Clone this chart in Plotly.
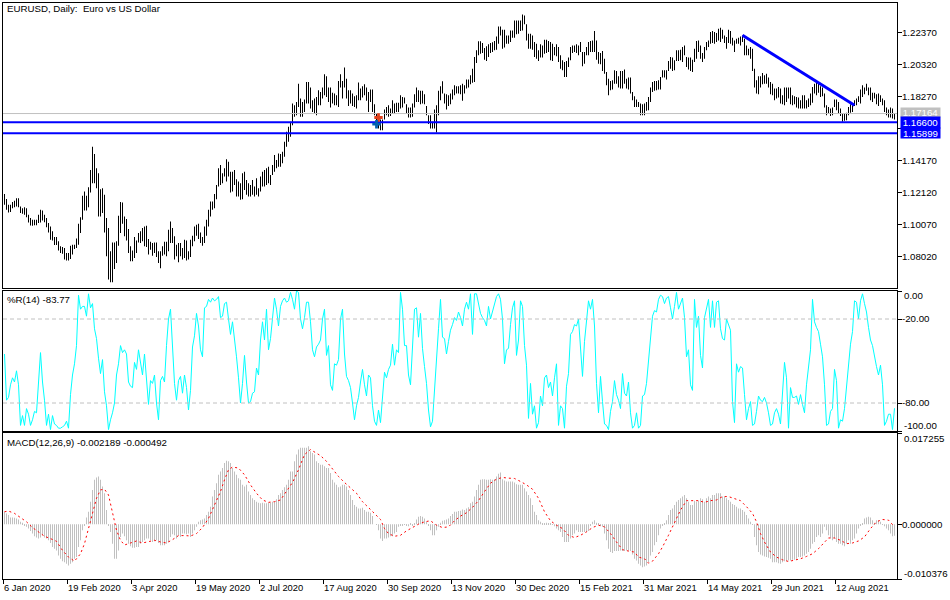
import plotly.graph_objects as go

# EURUSD daily, values
bar_high = [
 1.1201,1.1169,1.1131,1.1131,1.1150,1.1157,1.1174,1.1174,1.1120,1.1110,1.1116,1.1110,1.1067,1.1046,1.1035,1.1035,1.1035,1.1067,1.1099,1.1095,
 1.1067,1.1046,1.1014,1.0993,1.0961,1.0925,1.0925,1.0897,1.0865,1.0861,1.0854,1.0822,1.0822,1.0869,1.0875,1.0875,1.0916,1.1010,1.1052,1.1189,
 1.1216,1.1189,1.1244,1.1355,1.1504,1.1457,1.1365,1.1333,1.1231,1.1238,1.1195,1.1046,1.0982,1.0833,1.0890,1.0890,1.0897,1.1061,1.1150,1.1146,
 1.1057,1.1040,1.0976,1.0865,1.0839,1.0925,1.0903,1.0950,1.0961,1.0982,1.0993,1.0997,1.0912,1.0895,1.0886,1.0890,1.0890,1.0833,1.0833,1.0865,
 1.0895,1.0895,1.0971,1.1025,1.0982,1.0929,1.0875,1.0886,1.0886,1.0854,1.0907,1.0903,1.0833,1.0907,1.0933,1.0993,1.1003,1.1010,1.0954,1.0925,
 1.0993,1.1035,1.1099,1.1152,1.1152,1.1201,1.1259,1.1365,1.1387,1.1333,1.1365,1.1423,1.1408,1.1344,1.1344,1.1355,1.1295,1.1280,1.1270,1.1333,
 1.1344,1.1291,1.1270,1.1259,1.1291,1.1248,1.1301,1.1238,1.1312,1.1344,1.1355,1.1365,1.1376,1.1323,1.1387,1.1451,1.1419,1.1461,1.1457,1.1472,
 1.1536,1.1600,1.1632,1.1664,1.1781,1.1770,1.1791,1.1908,1.1813,1.1791,1.1806,1.1919,1.1919,1.1883,1.1802,1.1813,1.1823,1.1866,
 1.1855,1.1883,1.1968,1.1955,1.1883,1.1883,1.1849,1.1845,1.1834,1.1925,1.1968,1.1925,1.2011,1.1940,1.1866,1.1866,1.1845,1.1828,1.1834,1.1915,
 1.1877,1.1891,1.1904,1.1883,1.1855,1.1870,1.1870,1.1776,1.1717,1.1685,1.1678,1.1678,1.1742,1.1759,1.1770,1.1749,1.1802,1.1781,1.1785,1.1785,
 1.1834,1.1823,1.1819,1.1776,1.1755,1.1755,1.1781,1.1840,1.1883,1.1866,1.1862,1.1862,1.1840,1.1764,1.1706,1.1706,1.1664,1.1742,1.1770,1.1862,
 1.1891,1.1923,1.1845,1.1840,1.1834,1.1845,1.1870,1.1898,1.1891,1.1891,1.1898,1.1908,1.1898,1.1934,1.1934,1.1962,1.2004,1.2079,1.2122,1.2179,
 1.2179,1.2168,1.2136,1.2147,1.2160,1.2168,1.2173,1.2181,1.2211,1.2275,1.2275,1.2254,1.2254,1.2217,1.2217,1.2249,1.2249,1.2313,1.2313,1.2313,
 1.2313,1.2352,1.2345,1.2288,1.2228,1.2228,1.2217,1.2175,1.2164,1.2122,1.2160,1.2153,1.2190,1.2190,1.2181,1.2175,1.2164,1.2143,1.2160,1.2143,
 1.2090,1.2058,1.2047,1.2053,1.2075,1.2143,1.2153,1.2153,1.2160,1.2153,1.2175,1.2111,1.2111,1.2143,1.2175,1.2181,1.2185,1.2245,1.2185,1.2111,
 1.2104,1.2117,1.2068,1.1983,1.1940,1.1925,1.1930,1.1994,1.1989,1.1955,1.1989,1.1989,1.1998,1.1940,1.1947,1.1947,1.1855,1.1828,1.1806,1.1791,
 1.1781,1.1776,1.1781,1.1791,1.1823,1.1883,1.1919,1.1925,1.1925,1.1930,1.1951,1.1994,1.1994,1.1994,1.2053,1.2079,1.2075,1.2058,1.2122,1.2122,
 1.2126,1.2143,1.2153,1.2079,1.2075,1.2075,1.2062,1.2132,1.2181,1.2185,1.2153,1.2104,1.2143,1.2175,1.2185,1.2239,1.2245,1.2239,1.2232,1.2260,
 1.2266,1.2254,1.2217,1.2207,1.2254,1.2245,1.2202,1.2185,1.2196,1.2202,1.2211,1.2217,1.2196,1.2153,1.2132,1.2143,1.2132,1.2004,1.1930,1.1955,
 1.1955,1.1977,1.1962,1.1972,1.1947,1.1919,1.1908,1.1877,1.1877,1.1887,1.1877,1.1834,1.1883,1.1883,1.1883,1.1883,1.1834,1.1828,1.1823,1.1819,
 1.1802,1.1834,1.1834,1.1802,1.1813,1.1845,1.1887,1.1908,1.1913,1.1913,1.1891,1.1883,1.1845,1.1770,1.1759,1.1749,1.1755,1.1806,1.1806,1.1791,
 1.1749,1.1717,1.1717,1.1721,1.1759,1.1776,1.1770,1.1802,1.1813,1.1828,1.1870,1.1898,1.1883,1.1908,1.1883,1.1883,1.1849,1.1849,1.1840,1.1845,
 1.1834,1.1813,1.1802,1.1755,1.1742,1.1755,1.1749,1.1717,
]
bar_low = [
 1.1131,1.1099,1.1082,1.1086,1.1110,1.1116,1.1120,1.1116,1.1078,1.1074,1.1067,1.1052,1.1018,1.0999,1.0997,1.1001,1.1001,1.1014,1.1018,1.1031,
 1.1020,1.0988,1.0954,1.0907,1.0903,1.0873,1.0873,1.0839,1.0822,1.0818,1.0780,1.0775,1.0775,1.0784,1.0812,1.0848,1.0854,1.0875,1.0950,1.1035,
 1.1095,1.1095,1.1116,1.1210,1.1270,1.1270,1.1238,1.1057,1.1057,1.1078,1.0954,1.0801,1.0652,1.0635,1.0635,1.0720,1.0758,1.0869,1.0950,1.1010,
 1.0929,1.0903,1.0822,1.0769,1.0769,1.0790,1.0822,1.0890,1.0886,1.0897,1.0865,1.0861,1.0812,1.0844,1.0805,1.0822,1.0797,1.0758,1.0724,1.0805,
 1.0812,1.0801,1.0833,1.0886,1.0886,1.0780,1.0801,1.0763,1.0801,1.0780,1.0790,1.0775,1.0780,1.0797,1.0865,1.0897,1.0933,1.0912,1.0886,1.0869,
 1.0886,1.0933,1.0993,1.1057,1.1099,1.1110,1.1167,1.1248,1.1259,1.1270,1.1312,1.1280,1.1312,1.1210,1.1216,1.1259,1.1184,1.1184,1.1163,1.1167,
 1.1227,1.1195,1.1184,1.1184,1.1195,1.1184,1.1195,1.1184,1.1216,1.1248,1.1248,1.1259,1.1270,1.1259,1.1323,1.1344,1.1365,1.1376,1.1376,1.1397,
 1.1440,1.1504,1.1536,1.1568,1.1642,1.1696,1.1706,1.1759,1.1696,1.1696,1.1727,1.1781,1.1781,1.1749,1.1727,1.1717,1.1706,1.1770,
 1.1770,1.1813,1.1834,1.1823,1.1791,1.1755,1.1781,1.1770,1.1770,1.1759,1.1883,1.1813,1.1883,1.1813,1.1764,1.1781,1.1764,1.1759,1.1749,1.1802,
 1.1802,1.1819,1.1834,1.1798,1.1727,1.1791,1.1727,1.1706,1.1674,1.1621,1.1610,1.1610,1.1678,1.1706,1.1696,1.1700,1.1717,1.1717,1.1727,1.1727,
 1.1749,1.1755,1.1781,1.1713,1.1691,1.1691,1.1696,1.1755,1.1791,1.1791,1.1776,1.1781,1.1776,1.1706,1.1649,1.1621,1.1621,1.1621,1.1595,1.1706,
 1.1802,1.1845,1.1781,1.1742,1.1764,1.1776,1.1806,1.1834,1.1845,1.1845,1.1840,1.1798,1.1845,1.1877,1.1883,1.1904,1.1913,1.1919,1.2041,1.2090,
 1.2100,1.2104,1.2062,1.2053,1.2079,1.2104,1.2111,1.2122,1.2126,1.2164,1.2217,1.2132,1.2139,1.2164,1.2164,1.2175,1.2202,1.2202,1.2224,1.2228,
 1.2245,1.2249,1.2288,1.2185,1.2132,1.2132,1.2126,1.2079,1.2068,1.2053,1.2075,1.2075,1.2100,1.2104,1.2111,1.2058,1.2053,1.2090,1.2083,1.2047,
 1.2004,1.1994,1.1951,1.1951,1.2015,1.2058,1.2104,1.2111,1.2104,1.2090,1.2111,1.2019,1.2036,1.2090,1.2090,1.2111,1.2111,1.2111,1.2062,1.2036,
 1.2032,1.1989,1.1972,1.1898,1.1834,1.1866,1.1870,1.1908,1.1908,1.1883,1.1877,1.1877,1.1908,1.1877,1.1870,1.1845,1.1802,1.1759,1.1759,1.1759,
 1.1706,1.1706,1.1706,1.1734,1.1738,1.1791,1.1855,1.1862,1.1866,1.1870,1.1870,1.1947,1.1947,1.1934,1.1989,1.2004,1.1989,1.1994,1.2053,1.2053,
 1.2058,1.2047,1.2090,1.2015,1.1998,1.1989,1.1983,1.2047,1.2068,1.2111,1.2068,1.2047,1.2068,1.2122,1.2143,1.2164,1.2168,1.2164,1.2175,1.2185,
 1.2175,1.2196,1.2168,1.2132,1.2168,1.2164,1.2153,1.2111,1.2164,1.2164,1.2153,1.2175,1.2090,1.2090,1.2090,1.2068,1.1989,1.1883,1.1845,1.1840,
 1.1883,1.1904,1.1908,1.1908,1.1883,1.1840,1.1834,1.1802,1.1813,1.1819,1.1781,1.1776,1.1770,1.1791,1.1813,1.1776,1.1770,1.1776,1.1755,1.1749,
 1.1749,1.1749,1.1749,1.1749,1.1759,1.1770,1.1785,1.1845,1.1834,1.1849,1.1823,1.1828,1.1755,1.1706,1.1717,1.1700,1.1706,1.1759,1.1738,1.1713,
 1.1700,1.1664,1.1670,1.1674,1.1706,1.1721,1.1727,1.1764,1.1770,1.1791,1.1781,1.1823,1.1840,1.1862,1.1834,1.1802,1.1791,1.1813,1.1776,1.1764,
 1.1791,1.1770,1.1727,1.1706,1.1691,1.1691,1.1685,1.1678,
]
wpr = [
 -45,-78,-76,-67,-62,-65,-57,-67,-96,-89,-96,-84,-88,-96,-92,-86,-87,-62,-44,-65,-78,-96,-88,-99,-89,-95,-96,-98,-98,-97,-96,-93,-98,-74,-60,-52,-39,-3,-13,-11,
 -11,-18,-2,-12,-9,-27,-34,-48,-59,-49,-72,-82,-99,-92,-87,-80,-60,-52,-39,-44,-42,-45,-65,-68,-69,-51,-56,-42,-53,-60,-45,-67,-81,-64,-66,-60,-80,-92,-64,-61,
 -65,-39,-20,-13,-41,-66,-78,-64,-61,-73,-60,-69,-85,-71,-40,-32,-16,-25,-42,-47,-12,-11,-6,-8,-5,-7,-6,-4,-19,-18,-9,-8,-20,-31,-22,-33,-47,-62,-80,-66,
 -46,-65,-80,-79,-73,-72,-55,-60,-35,-22,-35,-13,-42,-34,-20,-5,-13,-25,-11,-7,-5,-8,-7,-1,-6,-13,0,-1,-20,-27,-19,-8,-8,-22,-42,-47,-40,-38,
 -35,-20,-13,-46,-39,-67,-71,-52,-53,-49,-20,-13,-45,-61,-64,-69,-80,-92,-82,-76,-65,-56,-67,-75,-60,-62,-82,-93,-96,-85,-94,-78,-58,-62,-56,-53,-38,-53,-42,-44,
 -1,-13,-39,-39,-60,-67,-41,-13,-12,-33,-16,-41,-54,-66,-85,-97,-93,-68,-47,-27,-6,-33,-34,-45,-36,-28,-24,-19,-21,-15,-19,-25,-13,-8,-13,-2,-31,-2,-2,-8,
 -16,-19,-21,-25,-11,-20,-14,-9,-4,-2,-6,-20,-52,-42,-41,-24,-12,-7,-46,-35,-7,-11,-39,-53,-91,-66,-88,-82,-98,-94,-75,-82,-62,-60,-69,-65,-75,-62,-52,-96,
 -82,-84,-98,-68,-59,-31,-29,-24,-25,-20,-38,-61,-36,-20,-7,-13,-6,-25,-66,-87,-61,-79,-95,-96,-99,-86,-79,-64,-74,-78,-84,-59,-73,-75,-65,-87,-98,-96,-87,-98,
 -96,-75,-74,-66,-49,-34,-18,-14,-15,-6,-3,-4,-9,-5,-4,-12,-20,-11,-1,-13,-9,-5,-19,-47,-42,-67,-71,-6,-26,-18,-46,-55,-19,-13,-6,-26,-7,-26,-8,-7,
 -27,-34,-35,-20,-24,-28,-79,-94,-52,-58,-54,-55,-74,-92,-84,-79,-96,-95,-86,-75,-78,-79,-76,-80,-87,-96,-95,-87,-84,-88,-95,-74,-51,-62,-98,-69,-76,-76,-75,-81,
 -74,-81,-87,-67,-53,-42,-6,-22,-26,-29,-38,-47,-67,-96,-95,-86,-84,-56,-64,-98,-92,-93,-84,-67,-55,-38,-29,-7,-8,-20,-7,-2,-9,-15,-26,-35,-39,-48,-54,-60,
 -53,-67,-96,-93,-88,-88,-99,-83.77,
]
macd_hist = [
 .00235,.00204,.00172,.00127,.00127,.00121,.00108,.00089,.00045,.00025,-.00019,-.00051,-.00083,-.00127,-.00178,-.00229,-.00254,-.00273,-.00254,-.00210,
 -.00254,-.00273,-.00305,-.00356,-.00432,-.00464,-.00496,-.00591,-.00655,-.00700,-.00719,-.00750,-.00782,-.00750,-.00719,-.00655,-.00623,-.00432,-.00305,-.00114,
 -.00019,.00127,.00235,.00426,.00649,.00840,.00884,.00903,.00840,.00712,.00585,.00267,-.00019,-.00146,-.00369,-.00655,-.00655,-.00496,-.00242,-.00178,
 -.00229,-.00305,-.00369,-.00420,-.00445,-.00445,-.00432,-.00432,-.00369,-.00337,-.00305,-.00273,-.00273,-.00305,-.00337,-.00324,-.00305,-.00356,-.00401,-.00401,
 -.00401,-.00369,-.00337,-.00242,-.00191,-.00210,-.00273,-.00210,-.00242,-.00178,-.00178,-.00191,-.00178,-.00242,-.00178,-.00114,-.00051,.00045,.00076,.00089,
 .00108,.00172,.00235,.00331,.00522,.00649,.00776,.00935,.00999,.01062,.01158,.01202,.01189,.01158,.01062,.00999,.00935,.00871,.00840,.00744,
 .00712,.00744,.00617,.00553,.00490,.00458,.00426,.00407,.00394,.00407,.00394,.00394,.00407,.00407,.00426,.00426,.00471,.00553,.00585,.00649,
 .00700,.00744,.00840,.00999,.00999,.01189,.01317,.01412,.01444,.01444,.01444,.01444,.01476,.01380,.01348,.01317,.01189,.01158,
 .01126,.01126,.01094,.01062,.01062,.00967,.00840,.00789,.00744,.00700,.00712,.00744,.00744,.00712,.00649,.00553,.00458,.00363,.00331,.00299,
 .00299,.00312,.00267,.00235,.00235,.00216,.00153,.00000,-.00010,-.00114,-.00273,-.00318,-.00273,-.00273,-.00254,-.00229,-.00229,-.00178,-.00146,-.00051,
 -.00019,-.00019,-.00005,-.00019,-.00038,.00005,-.00019,.00013,.00089,.00140,.00153,.00140,.00108,.00045,-.00019,-.00114,-.00210,-.00210,-.00114,-.00051,
 .00025,.00064,.00076,.00089,.00108,.00153,.00191,.00235,.00235,.00248,.00254,.00280,.00267,.00299,.00318,.00394,.00426,.00522,.00649,.00744,
 .00840,.00852,.00852,.00840,.00840,.00852,.00840,.00852,.00903,.00954,.00979,.00852,.00827,.00808,.00808,.00808,.00808,.00789,.00757,.00744,
 .00744,.00744,.00681,.00617,.00553,.00490,.00363,.00235,.00172,.00076,.00045,.00005,.00005,.00025,.00013,.00005,-.00005,-.00038,-.00083,-.00114,
 -.00146,-.00242,-.00337,-.00337,-.00337,-.00273,-.00210,-.00178,-.00114,-.00146,-.00146,-.00146,-.00146,-.00146,-.00127,-.00019,.00045,.00076,.00025,.00005,
 -.00019,-.00051,-.00178,-.00305,-.00464,-.00528,-.00547,-.00509,-.00509,-.00509,-.00496,-.00509,-.00509,-.00496,-.00496,-.00509,-.00572,-.00655,-.00687,-.00750,
 -.00782,-.00814,-.00801,-.00782,-.00719,-.00591,-.00528,-.00401,-.00337,-.00210,-.00083,-.00019,.00005,.00076,.00172,.00267,.00299,.00363,.00426,.00458,
 .00490,.00522,.00553,.00490,.00426,.00363,.00363,.00445,.00426,.00445,.00490,.00471,.00426,.00490,.00522,.00490,.00553,.00553,.00585,.00585,
 .00585,.00522,.00522,.00490,.00458,.00426,.00382,.00363,.00331,.00299,.00299,.00267,.00235,.00172,.00108,.00045,-.00005,-.00242,-.00401,-.00528,
 -.00572,-.00591,-.00611,-.00623,-.00636,-.00655,-.00719,-.00719,-.00719,-.00738,-.00750,-.00719,-.00700,-.00700,-.00687,-.00687,-.00674,-.00674,-.00655,-.00623,
 -.00623,-.00611,-.00591,-.00560,-.00528,-.00464,-.00369,-.00337,-.00242,-.00210,-.00242,-.00178,-.00051,-.00114,-.00210,-.00273,-.00305,-.00273,-.00337,-.00369,
 -.00369,-.00401,-.00420,-.00369,-.00305,-.00369,-.00305,-.00273,-.00178,-.00083,-.00019,.00013,.00108,.00127,.00140,.00127,.00076,.00025,.00076,.00076,
 .00045,-.00005,-.00038,-.00083,-.00114,-.00178,-.00229,-.00219,
]
signal_idx = [
 0,2,5,8,11,14,17,20,23,26,29,32,35,38,40,42,44,46,48,50,52,54,56,58,60,63,66,69,72,75,78,81,84,87,90,93,96,99,102,104,106,108,110,112,114,117,120,123,126,129,
 132,135,138,141,144,147,150,153,156,158,161,164,167,170,173,176,179,182,185,188,190,192,195,198,201,204,207,210,213,216,219,222,225,228,231,234,237,240,243,246,
 249,252,255,258,261,264,267,270,273,276,279,282,285,288,291,294,297,300,303,306,309,312,315,317,320,322,324,327,329,332,335,338,341,344,347,350,353,356,359,362,
 365,368,371,374,376,378,380,383,386,389,392,395,398,401,404,407,410,412,415,418,421,424,427,430,433,436,439,442,445,
]
signal_val = [
 .00235,.00248,.00204,.00127,.00045,-.00064,-.00146,-.00229,-.00273,-.00324,-.00496,-.00623,-.00700,-.00560,-.00369,-.00083,.00235,.00490,.00649,.00661,
 .00553,.00204,-.00114,-.00305,-.00394,-.00356,-.00318,-.00356,-.00337,-.00305,-.00337,-.00356,-.00293,-.00216,-.00216,-.00223,-.00178,-.00064,.00108,.00267,
 .00426,.00617,.00840,.01030,.01081,.01062,.00935,.00744,.00585,.00458,.00413,.00426,.00458,.00617,.00789,.01030,.01317,.01412,.01348,
 .01297,.01189,.01043,.00903,.00789,.00681,.00585,.00426,.00318,.00216,.00089,-.00083,-.00178,-.00229,-.00210,-.00127,-.00064,.00000,.00045,.00064,
 -.00019,-.00064,-.00051,.00064,.00153,.00216,.00318,.00445,.00617,.00776,.00852,.00884,.00871,.00865,.00808,.00744,.00661,.00490,.00235,.00064,
 -.00019,-.00083,-.00210,-.00254,-.00210,-.00146,-.00064,-.00019,-.00051,-.00178,-.00337,-.00483,-.00509,-.00528,-.00623,
 -.00655,-.00738,-.00700,-.00560,-.00432,-.00210,.00045,.00267,.00445,.00445,.00445,.00413,.00445,.00458,.00522,.00522,.00490,.00445,.00331,.00204,
 .00045,-.00178,-.00337,-.00528,-.00623,-.00674,-.00706,-.00687,-.00655,-.00611,-.00560,-.00464,-.00337,-.00261,-.00261,-.00305,-.00369,-.00356,-.00318,-.00242,
 -.00083,.00045,.00089,.00076,-.00049,
]
tick_idx = [0, 32, 64, 96, 128, 160, 192, 224, 256, 288, 320, 352, 384, 416]
tick_dates = ["6 Jan 2020", "19 Feb 2020", "3 Apr 2020", "19 May 2020", "2 Jul 2020", "17 Aug 2020", "30 Sep 2020",
              "13 Nov 2020", "30 Dec 2020", "15 Feb 2021", "31 Mar 2021", "14 May 2021", "29 Jun 2021", "12 Aug 2021"]
price_ticks = [1.2237, 1.2032, 1.1827, 1.1622, 1.1417, 1.1212, 1.1007, 1.0802]
price_labels = ["1.22370", "1.20320", "1.18270", "", "1.14170", "1.12120", "1.10070", "1.08020"]
last_price = 1.17164
support_hi = 1.16600
support_lo = 1.15899
trend_idx = [369, 425]
trend_val = [1.2218, 1.1770]
sell_idx, sell_val = 187, 1.1691
buy_idx, buy_val = 186, 1.1648

FONT = "Liberation Sans"
SIZE = 9.7
GREY = "#c0c0c0"
BLUE = "#0000ff"
OFFSET = 0.75   # a bar sits just right of its date tick
xs = [i + OFFSET for i in range(len(bar_high))]
x_end = 447

fig = go.Figure()

# price panel
fig.add_trace(go.Bar(x=xs, y=[h - l for h, l in zip(bar_high, bar_low)], base=bar_low, width=0.5,
                     marker=dict(color="black", line=dict(width=0)), xaxis="x", yaxis="y"))
fig.add_trace(go.Scatter(x=[0, x_end], y=[last_price, last_price], mode="lines", line=dict(color=GREY, width=1), xaxis="x", yaxis="y"))
fig.add_trace(go.Scatter(x=[0, x_end], y=[support_hi, support_hi], mode="lines", line=dict(color=BLUE, width=2), xaxis="x", yaxis="y"))
fig.add_trace(go.Scatter(x=[0, x_end], y=[support_lo, support_lo], mode="lines", line=dict(color=BLUE, width=2), xaxis="x", yaxis="y"))
fig.add_trace(go.Scatter(x=[i + OFFSET for i in trend_idx], y=trend_val, mode="lines", line=dict(color=BLUE, width=3), xaxis="x", yaxis="y"))
fig.add_trace(go.Scatter(x=[sell_idx + OFFSET], y=[sell_val], mode="markers", marker=dict(symbol="cross", size=7, color="#e0401c"), xaxis="x", yaxis="y"))
fig.add_trace(go.Scatter(x=[buy_idx + OFFSET], y=[buy_val], mode="markers", marker=dict(symbol="cross", size=7, color="#0060b0"), xaxis="x", yaxis="y"))

# Williams %R
fig.add_trace(go.Scatter(x=xs, y=wpr, mode="lines", line=dict(color="#00ffff", width=1), xaxis="x2", yaxis="y2"))
for lvl in [-20, -80]:
    fig.add_trace(go.Scatter(x=[0, x_end], y=[lvl, lvl], mode="lines", line=dict(color=GREY, width=1, dash="4px,3px"), xaxis="x2", yaxis="y2"))

# MACD
fig.add_trace(go.Bar(x=xs, y=macd_hist, width=0.5, marker=dict(color=GREY, line=dict(width=0)), xaxis="x3", yaxis="y3"))
fig.add_trace(go.Scatter(x=[i + OFFSET for i in signal_idx], y=signal_val, mode="lines",
                         line=dict(color="#ff0000", width=1, dash="2px,3px"), xaxis="x3", yaxis="y3"))

W, H = 950, 600
TOP, BOTTOM = 3, 579
plot_h = BOTTOM - TOP
def y_dom(top, bottom):
    return [(BOTTOM - bottom) / plot_h, (BOTTOM - top) / plot_h]

ax = dict(showline=True, mirror=True, linecolor="black", linewidth=1, showgrid=False, zeroline=False, automargin=False,
          tickfont=dict(family=FONT, size=SIZE, color="black"), tickcolor="black", ticklen=4, tickwidth=1)
xcommon = dict(ax, range=[0, x_end], showticklabels=False, ticks="")
ycommon = dict(ax, side="right", ticks="outside", ticklabelstandoff=-2)

def label(x, y, text):
    return dict(xref="paper", yref="paper", x=(x - 3) / 894, y=(BOTTOM - y) / plot_h, text=text, showarrow=False,
                xanchor="left", yanchor="middle", xshift=-1, font=dict(family=FONT, size=SIZE, color="black"))

def price_box(y, text, bg, height=10, yshift=0):
    return dict(xref="paper", yref="y", x=(900 - 3) / 894, y=y, text=text, showarrow=False, xanchor="left", yanchor="middle",
                width=39, height=height, yshift=yshift, bgcolor=bg, borderpad=0, align="center",
                font=dict(family=FONT, size=SIZE, color="white"))

fig.update_layout(
    width=W, height=H, margin=dict(l=3, r=53, t=TOP, b=H - BOTTOM), showlegend=False,
    paper_bgcolor="white", plot_bgcolor="white", barmode="overlay",
    xaxis=dict(xcommon, anchor="y"),
    yaxis=dict(ycommon, domain=y_dom(3, 288), anchor="x", range=[1.0598, 1.2425],
               tickvals=price_ticks, ticktext=price_labels),
    xaxis2=dict(xcommon, anchor="y2"),
    yaxis2=dict(ycommon, domain=y_dom(291, 431), anchor="x2", range=[-100, 0],
                tickvals=[0, -20, -80, -100], ticktext=["", "-20.00", "-80.00", ""]),
    xaxis3=dict(xcommon, anchor="y3", showticklabels=True, ticks="outside", tickvals=tick_idx, ticktext=tick_dates,
                tickangle=0, ticklabelposition="outside right", tickfont=dict(family=FONT, size=9.4, color="black")),
    yaxis3=dict(ycommon, domain=y_dom(433, 579), anchor="x3", range=[-0.010376, 0.017255],
                tickvals=[0.017255, 0, -0.010376], ticktext=["", "0.000000", ""]),
    annotations=[
        label(6, 9, "EURUSD, Daily:  Euro vs US Dollar"),
        label(6, 299, "%R(14) -83.77"),
        label(6, 442, "MACD(12,26,9) -0.002189 -0.000492"),
        label(903, 295.5, "0.00"),
        label(903, 425.5, "-100.00"),
        label(903, 438, "0.017255"),
        label(903, 573, "-0.010376"),
        price_box(last_price, "1.17164", GREY, height=9, yshift=1),
        price_box(support_hi, "1.16600", BLUE, height=11),
        price_box(support_lo, "1.15899", BLUE, height=10),
    ],
)

fig.write_html("out.html", config={"displayModeBar": False}, post_script="document.body.style.margin='0';")
